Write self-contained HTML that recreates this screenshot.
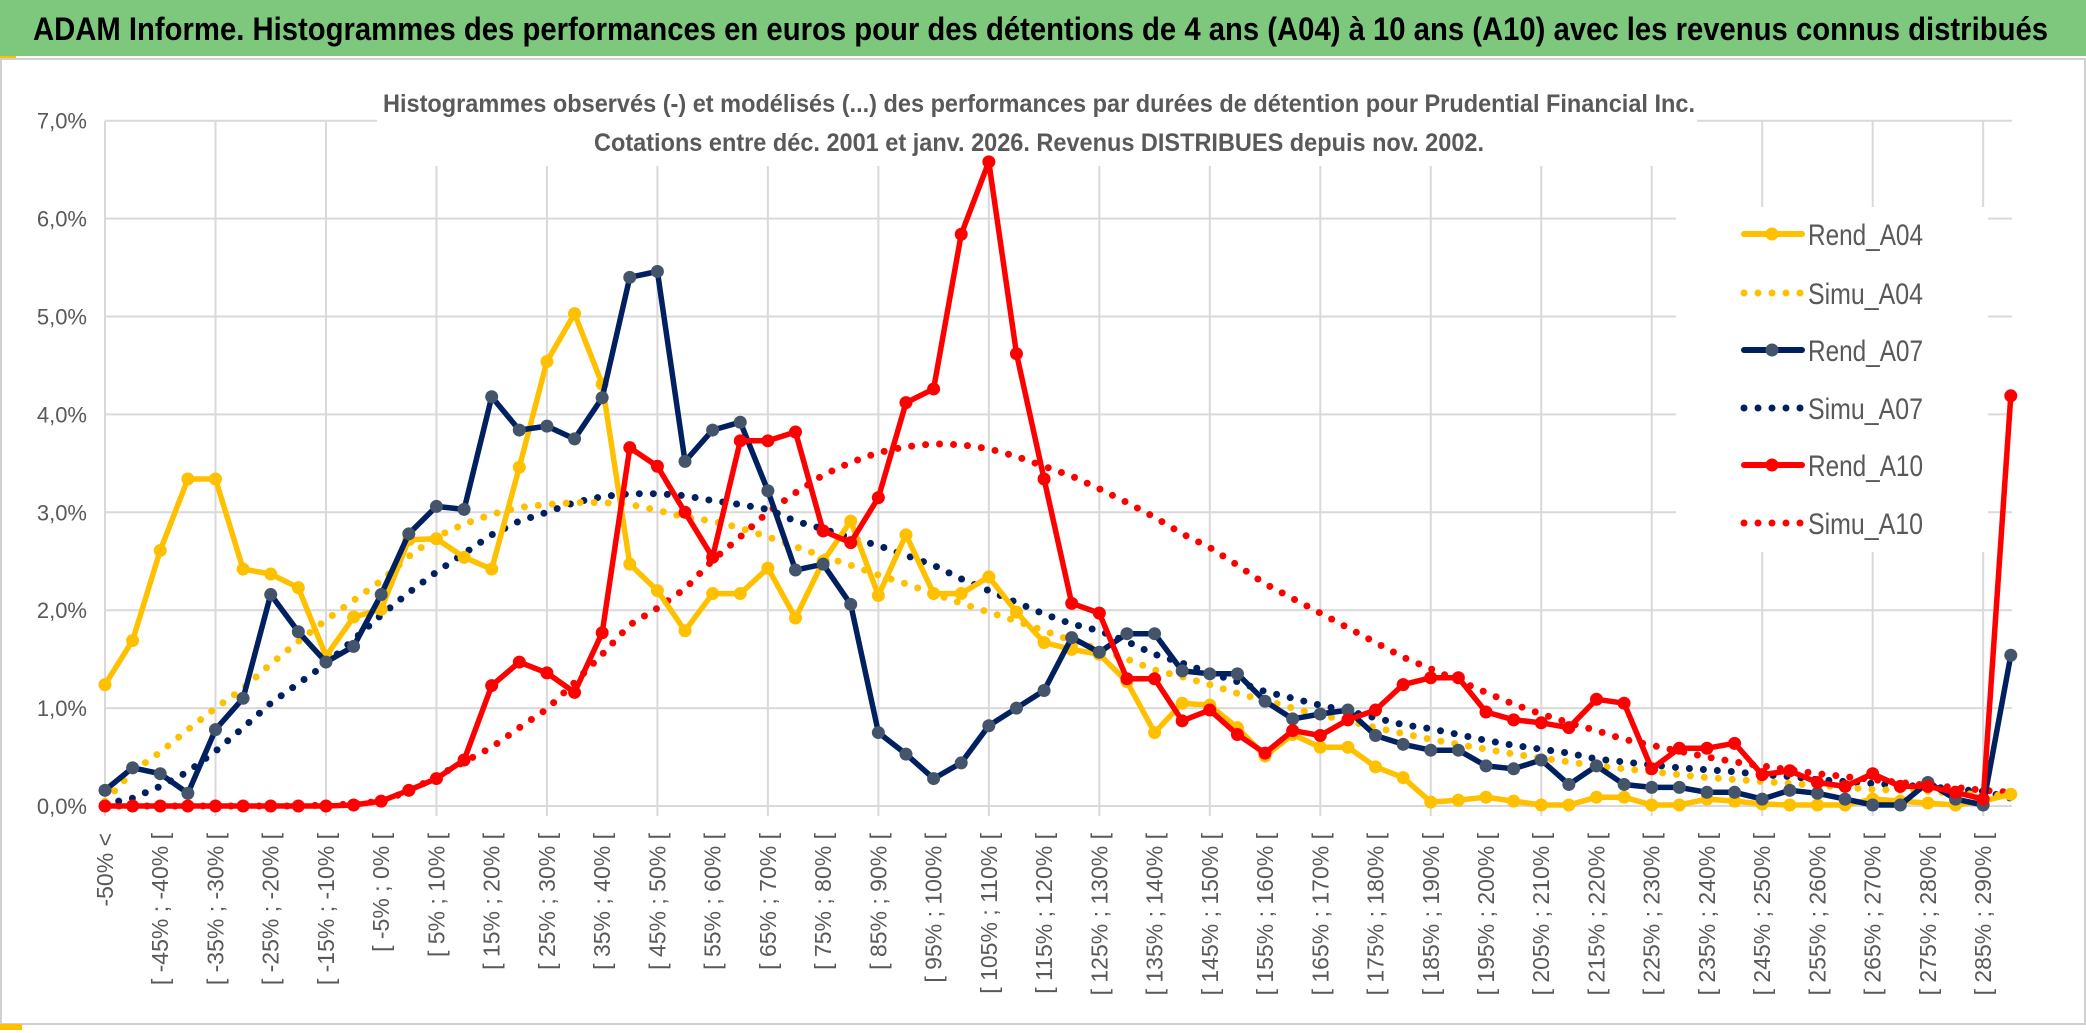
<!DOCTYPE html>
<html><head><meta charset="utf-8"><style>
html,body{margin:0;padding:0;background:#fff;}
svg{display:block;font-family:"Liberation Sans",sans-serif;}
</style></head><body>
<svg id="chart" width="2086" height="1033" viewBox="0 0 2086 1033" xmlns="http://www.w3.org/2000/svg">
<rect x="0" y="0" width="2086" height="1033" fill="#fff"/>
<rect x="0" y="0" width="2086" height="56" fill="#7ec87e"/>
<rect x="0" y="56" width="16" height="4" fill="#ffc000"/>
<text x="33" y="40" font-size="32" font-weight="bold" fill="#000" textLength="2015" lengthAdjust="spacingAndGlyphs">ADAM Informe. Histogrammes des performances en euros pour des détentions de 4 ans (A04) à 10 ans (A10) avec les revenus connus distribués</text>
<rect x="1" y="59" width="2084" height="965" fill="none" stroke="#d0d0d0" stroke-width="2"/>
<rect x="0" y="1024" width="22" height="6" fill="#ffc000"/>
<g id="grid"></g>
<g id="yaxis"></g>
<g id="xaxis"></g>
<rect x="377" y="88" width="1320" height="78" fill="#fff"/>
<text x="1039" y="112" font-size="25" font-weight="bold" fill="#595959" text-anchor="middle" textLength="1312" lengthAdjust="spacingAndGlyphs">Histogrammes observés (-) et modélisés (...) des performances par durées de détention pour Prudential Financial Inc.</text>
<text x="1039" y="151" font-size="25" font-weight="bold" fill="#595959" text-anchor="middle" textLength="890" lengthAdjust="spacingAndGlyphs">Cotations entre déc. 2001 et janv. 2026. Revenus DISTRIBUES depuis nov. 2002.</text>
<rect x="1676" y="207" width="312" height="345" fill="#fff"/>
<g id="series"></g>
<g id="legend"></g>
</svg>
<script>
const rendA04=[1.24,1.69,2.61,3.34,3.34,2.42,2.37,2.23,1.53,1.93,2.01,2.72,2.73,2.54,2.42,3.46,4.54,5.03,4.31,2.47,2.2,1.79,2.17,2.17,2.43,1.92,2.5,2.91,2.15,2.77,2.17,2.17,2.34,1.98,1.67,1.6,1.55,1.27,0.75,1.05,1.03,0.8,0.51,0.73,0.6,0.6,0.4,0.29,0.04,0.06,0.09,0.05,0.01,0.01,0.09,0.09,0.01,0.01,0.07,0.05,0.02,0.01,0.01,0.01,0.07,0.05,0.03,0.01,0.05,0.12];
const simuA04=[0.05,0.35,0.55,0.78,1.0,1.2,1.45,1.68,1.9,2.1,2.3,2.55,2.75,2.88,2.98,3.05,3.08,3.1,3.1,3.08,3.02,2.95,2.91,2.84,2.75,2.65,2.55,2.46,2.36,2.27,2.17,2.07,1.98,1.89,1.79,1.69,1.6,1.5,1.39,1.32,1.24,1.15,1.08,1.0,0.93,0.87,0.8,0.74,0.68,0.63,0.58,0.53,0.49,0.45,0.41,0.38,0.35,0.32,0.29,0.27,0.25,0.23,0.21,0.19,0.17,0.16,0.15,0.13,0.12,0.1];
const rendA07=[0.16,0.39,0.33,0.13,0.78,1.1,2.16,1.78,1.47,1.63,2.16,2.78,3.06,3.03,4.18,3.84,3.88,3.75,4.17,5.4,5.46,3.52,3.84,3.92,3.22,2.41,2.47,2.06,0.75,0.53,0.28,0.44,0.82,1.0,1.18,1.72,1.57,1.76,1.76,1.38,1.35,1.35,1.07,0.89,0.94,0.98,0.72,0.63,0.57,0.57,0.41,0.38,0.47,0.22,0.41,0.22,0.19,0.19,0.14,0.14,0.07,0.16,0.13,0.07,0.01,0.01,0.24,0.07,0.01,1.54];
const simuA07=[0.02,0.08,0.2,0.35,0.56,0.8,1.05,1.25,1.45,1.7,1.95,2.18,2.39,2.58,2.77,2.91,3.0,3.1,3.16,3.19,3.19,3.17,3.12,3.08,3.03,2.91,2.83,2.74,2.66,2.56,2.46,2.32,2.2,2.08,1.96,1.86,1.79,1.68,1.55,1.46,1.36,1.27,1.17,1.1,1.03,0.97,0.9,0.83,0.79,0.73,0.67,0.62,0.58,0.54,0.48,0.45,0.42,0.39,0.37,0.35,0.32,0.3,0.27,0.25,0.23,0.21,0.2,0.17,0.15,0.08];
const rendA10=[0,0,0,0,0,0,0,0,0,0.01,0.05,0.16,0.28,0.47,1.23,1.47,1.36,1.16,1.77,3.66,3.47,3.0,2.54,3.73,3.73,3.82,2.81,2.69,3.15,4.12,4.26,5.84,6.58,4.62,3.34,2.07,1.97,1.3,1.3,0.87,0.98,0.73,0.54,0.77,0.72,0.88,0.98,1.24,1.31,1.31,0.96,0.88,0.85,0.8,1.09,1.05,0.38,0.59,0.59,0.64,0.32,0.36,0.24,0.2,0.33,0.2,0.2,0.14,0.07,4.19];
const simuA10=[0,0,0,0,0,0,0,0,0.01,0.02,0.05,0.15,0.3,0.45,0.6,0.8,0.99,1.26,1.55,1.85,2.02,2.22,2.51,2.75,3.0,3.2,3.38,3.51,3.61,3.67,3.7,3.69,3.65,3.57,3.47,3.37,3.24,3.1,2.95,2.78,2.64,2.46,2.27,2.12,1.97,1.82,1.67,1.52,1.4,1.28,1.16,1.04,0.94,0.85,0.77,0.68,0.62,0.56,0.5,0.45,0.41,0.37,0.33,0.3,0.27,0.24,0.21,0.19,0.16,0.14];
const yTicks=[0,1,2,3,4,5,6,7];
const yTickLabels=["0,0%","1,0%","2,0%","3,0%","4,0%","5,0%","6,0%","7,0%"];
const categories=["-50% <"];
for(let k=1;k<70;k++){const a=-50+5*(k-1);categories.push("[ "+a+"% ; "+(a+5)+"% [");}

const NS="http://www.w3.org/2000/svg";
const X0=105,DX=27.62,Y0=806,DY=97.9,XR=2012;
function xs(i){return X0+i*DX;}
function ys(v){return Y0-v*DY;}
function mk(tag,attrs,parent){const e=document.createElementNS(NS,tag);for(const k in attrs)e.setAttribute(k,attrs[k]);parent.appendChild(e);return e;}

const grid=document.getElementById('grid');
yTicks.forEach(t=>{const l=mk('line',{x1:X0,x2:XR,y1:ys(t),y2:ys(t),stroke:'#d9d9d9','stroke-width':2},grid);

});
for(let i=0;i<categories.length;i+=4){const l=mk('line',{x1:xs(i),x2:xs(i),y1:ys(7),y2:ys(0)+10,stroke:'#d9d9d9','stroke-width':2},grid);

}

const ya=document.getElementById('yaxis');
yTicks.forEach((t,i)=>{const tx=mk('text',{x:87,y:ys(t)+8,'font-size':22,fill:'#595959','text-anchor':'end'},ya);tx.textContent=yTickLabels[i];

});

const xa=document.getElementById('xaxis');
categories.forEach((c,i)=>{if(i%2)return;const x=xs(i)+8,y=833;
const tx=mk('text',{x:x,y:y,'font-size':23,fill:'#595959','text-anchor':'end',transform:'rotate(-90 '+x+' '+y+')'},xa);tx.textContent=c;

});

const sg=document.getElementById('series');
function pts(arr){return arr.map((v,i)=>xs(i).toFixed(1)+','+ys(v).toFixed(1)).join(' ');}
function dotted(arr,col,name){const p=mk('polyline',{points:pts(arr),fill:'none',stroke:col,'stroke-width':7,'stroke-linecap':'round','stroke-dasharray':'0 14'},sg);

}
function solid(arr,col,mcol,name){const g=mk('g',{},sg);


mk('polyline',{points:pts(arr),fill:'none',stroke:col,'stroke-width':5.5,'stroke-linejoin':'round'},g);
arr.forEach((v,i)=>{const c=mk('circle',{cx:xs(i),cy:ys(v),r:6.5,fill:mcol},g);

});}
dotted(simuA10,'#ff0000','simu-a10-line');
dotted(simuA07,'#002060','simu-a07-line');
dotted(simuA04,'#ffc000','simu-a04-line');
solid(rendA04,'#ffc000','#ffc000','rend-a04-line');
solid(rendA07,'#002060','#44546a','rend-a07-line');
solid(rendA10,'#ff0000','#ff0000','rend-a10-line');

const lg=document.getElementById('legend');
const items=[["Rend_A04","#ffc000","#ffc000",false],["Simu_A04","#ffc000","",true],["Rend_A07","#002060","#44546a",false],["Simu_A07","#002060","",true],["Rend_A10","#ff0000","#ff0000",false],["Simu_A10","#ff0000","",true]];
const ly=[234,293,350,408,465,523];
items.forEach((it,i)=>{const g=mk('g',{},lg);


const y=ly[i];
if(it[3]){mk('line',{x1:1744,x2:1802,y1:y,y2:y,stroke:it[1],'stroke-width':7,'stroke-linecap':'round','stroke-dasharray':'0 14'},g);}
else{mk('line',{x1:1744,x2:1802,y1:y,y2:y,stroke:it[1],'stroke-width':6,'stroke-linecap':'round'},g);mk('circle',{cx:1772,cy:y,r:6.5,fill:it[2]},g);}
const t=mk('text',{x:1808,y:y+11,'font-size':30,fill:'#595959',textLength:115,lengthAdjust:'spacingAndGlyphs'},g);t.textContent=it[0];});
</script>
</body></html>
